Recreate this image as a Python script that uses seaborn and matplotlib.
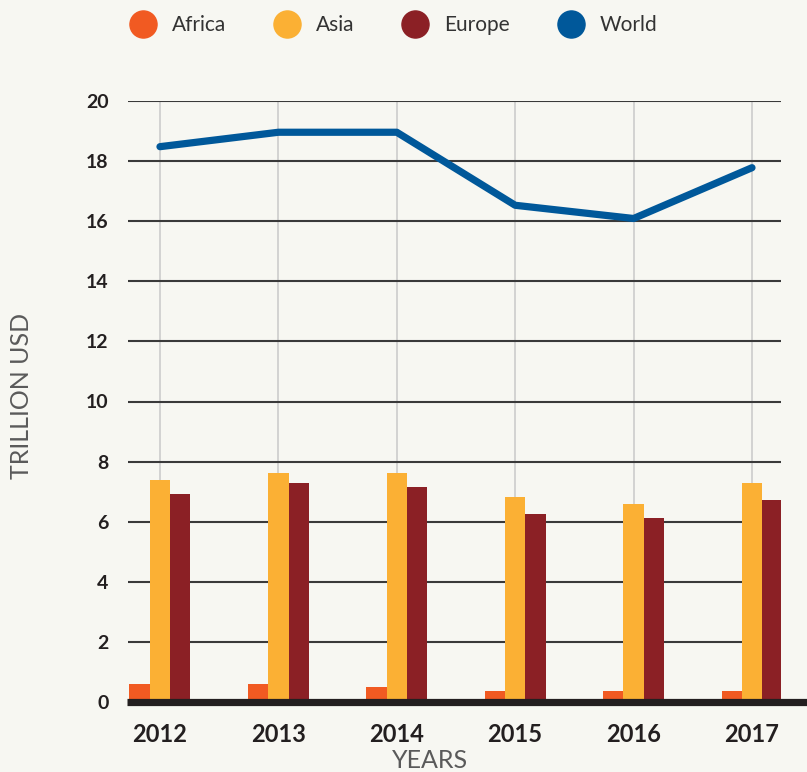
import matplotlib
matplotlib.use("Agg")
import matplotlib.pyplot as plt
import seaborn as sns
import pandas as pd
import numpy as np
from matplotlib.lines import Line2D

years = ["2012", "2013", "2014", "2015", "2016", "2017"]
regions = ["Africa", "Asia", "Europe"]
africa = [0.61, 0.61, 0.50, 0.37, 0.37, 0.37]
asia = [7.40, 7.63, 7.63, 6.83, 6.60, 7.30]
europe = [6.93, 7.30, 7.17, 6.27, 6.13, 6.73]
world = [18.48, 18.96, 18.96, 16.53, 16.09, 17.78]
yticks = [0, 2, 4, 6, 8, 10, 12, 14, 16, 18, 20]

colors = {"Africa": "#F15A22", "Asia": "#FBB034", "Europe": "#8B2025", "World": "#00589A"}
bg = "#F7F7F2"

df = pd.DataFrame({
    "year": years * 3,
    "region": ["Africa"] * 6 + ["Asia"] * 6 + ["Europe"] * 6,
    "value": africa + asia + europe,
})

sns.set_theme(style="white")
plt.rcParams["font.family"] = ["Lato", "DejaVu Sans"]

fig = plt.figure(figsize=(8.07, 7.72), dpi=100, facecolor=bg)
ax = fig.add_axes([128 / 807, 1 - 702 / 772, (781 - 128) / 807, (702 - 101) / 772])
ax.set_facecolor(bg)

sns.barplot(data=df, x="year", y="value", hue="region", order=years, hue_order=regions,
            palette=[colors[r] for r in regions], width=0.515, saturation=1,
            linewidth=0, edgecolor="none", legend=False, ax=ax, zorder=3)

xpos = np.arange(len(years))
sns.lineplot(x=xpos, y=world, color=colors["World"], linewidth=5.2, ax=ax, zorder=5,
             solid_capstyle="round", solid_joinstyle="round")

ax.set_xlim(-0.27, 5.245)
ax.set_ylim(0, 20)
ax.set_yticks(yticks)
ax.set_axisbelow(True)
ax.grid(axis="y", color="#3A3A3A", linewidth=1.5, zorder=0)
ax.grid(axis="x", color="#C9C9C9", linewidth=1.1, zorder=0)
for s in ax.spines.values():
    s.set_visible(False)
ax.tick_params(axis="both", length=0)
ax.tick_params(axis="y", pad=14, labelsize=14, labelcolor="#231F20")
ax.tick_params(axis="x", pad=15, labelsize=17, labelcolor="#231F20")
for t in ax.get_yticklabels() + ax.get_xticklabels():
    t.set_fontweight("bold")
ax.set_xlabel("")
ax.set_ylabel("")

# thick baseline
base = ax.axhline(0, xmin=-0.002, xmax=(807 - 128) / (781 - 128), color="#231F20",
                  linewidth=5.2, clip_on=False, zorder=6)
base.set_solid_capstyle("butt")

fig.text(22 / 807, 1 - 396 / 772, "TRILLION USD", rotation=90, ha="center", va="center",
         fontsize=18, fontweight="normal", color="#5A5A5A")
fig.text(430 / 807, 1 - 760 / 772, "YEARS", ha="center", va="center",
         fontsize=18, fontweight="normal", color="#5A5A5A")

handles = [Line2D([0], [0], marker="o", linestyle="none", markersize=19.5,
                  markerfacecolor=colors[k], markeredgecolor=colors[k])
           for k in ["Africa", "Asia", "Europe", "World"]]
fig.legend(handles, ["Africa", "Asia", "Europe", "World"], loc="center",
           bbox_to_anchor=(395 / 807, 1 - 25 / 772), ncol=4, frameon=False,
           fontsize=15, handlelength=1.0, handletextpad=0.9, columnspacing=2.42,
           labelcolor="#333333")

fig.savefig("out.png", dpi=100, facecolor=bg)
